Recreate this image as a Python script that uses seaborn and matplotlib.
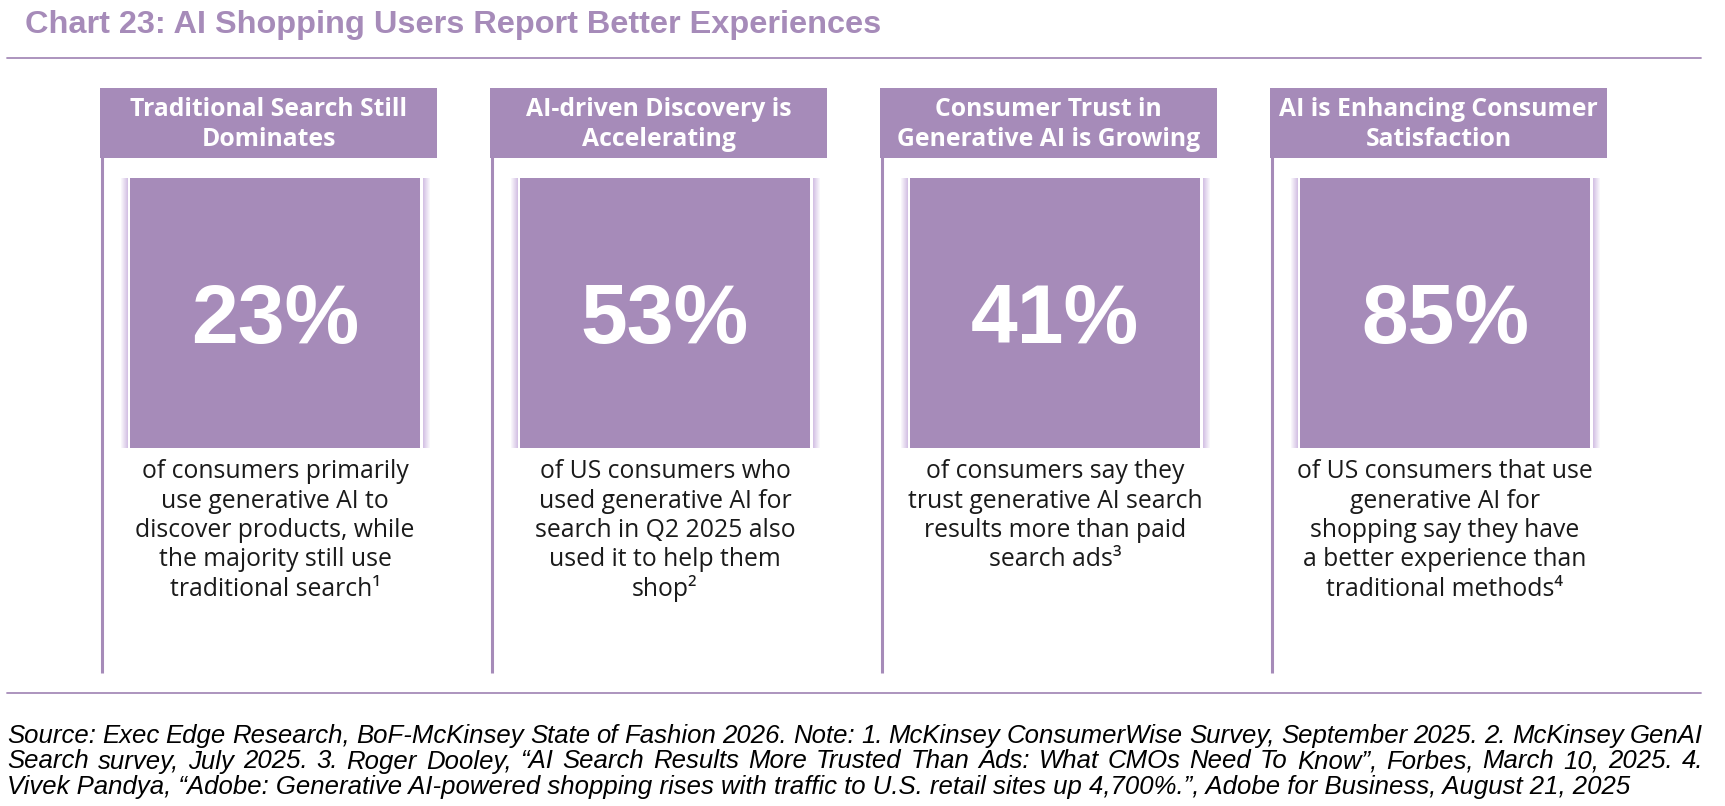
import matplotlib
matplotlib.use("Agg")
import matplotlib.pyplot as plt
import numpy as np
import seaborn as sns
from matplotlib.colors import LinearSegmentedColormap
from matplotlib.patches import Rectangle

sns.set_theme(style="white")
plt.rcParams["font.family"] = ["Open Sans", "DejaVu Sans"]

# ---- content -------------------------------------------------------------
chart_title = "Chart 23: AI Shopping Users Report Better Experiences"

headers = [
    "Traditional Search Still\nDominates",
    "AI-driven Discovery is\nAccelerating",
    "Consumer Trust in\nGenerative AI is Growing",
    "AI is Enhancing Consumer\nSatisfaction",
]
values = [23, 53, 41, 85]
descriptions = [
    "of consumers primarily\nuse generative AI to\ndiscover products, while\nthe majority still use\ntraditional search\u00b9",
    "of US consumers who\nused generative AI for\nsearch in Q2 2025 also\nused it to help them\nshop\u00b2",
    "of consumers say they\ntrust generative AI search\nresults more than paid\nsearch ads\u00b3",
    "of US consumers that use\ngenerative AI for\nshopping say they have\na better experience than\ntraditional methods\u2074",
]
footnote = [
    "Source: Exec Edge Research, BoF-McKinsey State of Fashion 2026. Note: 1. McKinsey ConsumerWise Survey, September 2025. 2. McKinsey GenAI",
    "Search survey, July 2025. 3. Roger Dooley, \u201cAI Search Results More Trusted Than Ads: What CMOs Need To Know\u201d, Forbes, March 10, 2025. 4.",
    "Vivek Pandya, \u201cAdobe: Generative AI-powered shopping rises with traffic to U.S. retail sites up 4,700%.\u201d, Adobe for Business, August 21, 2025",
]

PURPLE = "#a68bb9"
W, H, DPI = 1725, 806, 100
PT = 72 / DPI  # pixels -> points

fig = plt.figure(figsize=(W / DPI, H / DPI), dpi=DPI)
ax = fig.add_axes([0, 0, 1, 1])


def reset(ax):
    ax.set_xlim(0, W)
    ax.set_ylim(H, 0)
    ax.axis("off")


reset(ax)

# title + rules
ax.text(25, 33, chart_title, color=PURPLE, fontsize=32.5 * PT, fontweight="bold",
        family=["Liberation Sans", "DejaVu Sans"], va="baseline", ha="left")
ax.plot([7, 1701], [58, 58], color=PURPLE, lw=1.3)
ax.plot([7, 1701], [693, 693], color=PURPLE, lw=1.3)

# soft edges beside the tiles
edge = LinearSegmentedColormap.from_list("edge", ["#fbf9fd", "#d2bfe3"])
grad = np.linspace(0, 1, 32).reshape(1, -1)

step, pw = 390, 337
for i, (head, val, desc) in enumerate(zip(headers, values, descriptions)):
    x0 = 100 + step * i
    cx = x0 + 175
    # header box
    ax.add_patch(Rectangle((x0, 88), pw, 70, color=PURPLE, lw=0))
    for k, line in enumerate(head.split("\n")):
        ax.text(x0 + pw / 2, 116 + 30 * k, line, color="white", fontsize=24.8 * PT,
                fontweight="bold", ha="center", va="baseline")
    # left rule of the panel
    ax.plot([x0 + 1.5, x0 + 1.5], [88, 673], color=PURPLE, lw=2.2, solid_capstyle="butt")
    # tile
    ax.add_patch(Rectangle((x0 + 30, 178), 290, 270, color=PURPLE, lw=0))
    ax.imshow(grad, cmap=edge, extent=(x0 + 21, x0 + 28, 448, 178), aspect="auto",
              interpolation="bilinear")
    ax.imshow(grad[:, ::-1], cmap=edge, extent=(x0 + 323, x0 + 330, 448, 178),
              aspect="auto", interpolation="bilinear")
    ax.text(cx, 343, f"{val}%", color="white", fontsize=84 * PT, fontweight="bold",
            family=["Liberation Sans", "DejaVu Sans"], ha="center", va="baseline")
    for k, line in enumerate(desc.split("\n")):
        ax.text(cx, 478 + 29.5 * k, line, color="#1a1a1a", fontsize=24.8 * PT,
                ha="center", va="baseline")

reset(ax)

# justified footnote
fn_kw = dict(fontsize=25.7 * PT, style="italic", color="black",
             family=["Liberation Sans", "DejaVu Sans"], va="baseline", ha="left")
fig.canvas.draw()
renderer = fig.canvas.get_renderer()
for k, line in enumerate(footnote):
    y = 743 + 25.5 * k
    if k == len(footnote) - 1:
        ax.text(7, y, line, **fn_kw)
        continue
    words = line.split(" ")
    texts = [ax.text(0, y, w, **fn_kw) for w in words]
    widths = [t.get_window_extent(renderer).width for t in texts]
    gap = (1703 - 7 - sum(widths)) / (len(words) - 1)
    x = 7
    for t, wd in zip(texts, widths):
        t.set_x(x)
        x += wd + gap

fig.savefig("out.png", dpi=DPI)
